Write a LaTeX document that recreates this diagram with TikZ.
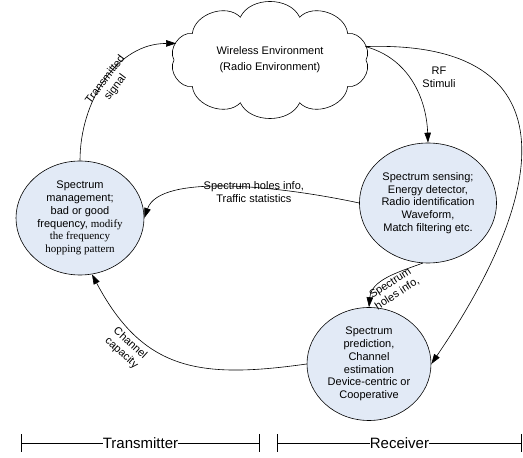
\documentclass[tikz,border=0pt]{standalone}
\usepackage{fontspec}
\setmainfont{Liberation Sans}
\newfontfamily\timesfont{Liberation Serif}
\usetikzlibrary{arrows.meta,shapes.geometric}
\definecolor{stagefill}{RGB}{226,234,246}

\begin{document}
\begin{tikzpicture}[
    x=1pt, y=1pt,
    stage/.style={ellipse, draw, fill=stagefill, inner sep=-10pt, align=center, font=\fontsize{11}{12.7}\selectfont, line width=0.6pt},
    arr/.style={-{Triangle[length=10pt,width=6.5pt]}, line width=0.6pt},
    lbl/.style={font=\fontsize{11}{12.7}\selectfont, align=center, inner sep=1pt},
    span/.style={{Bar[width=18pt]}-{Bar[width=18pt]}, line width=0.6pt}
]
\useasboundingbox (0,0) rectangle (523,458);

% wireless environment: text on an invisible ellipse, puffs drawn round it
\node[ellipse, inner sep=0pt, minimum width=196pt, minimum height=113pt, align=center, font=\fontsize{11}{16}\selectfont] (env) at (270,398) {Wireless Environment\\(Radio Environment)};
\draw[line width=0.6pt] (366,398) \foreach \a in {36,72,...,360} { to[bend right=65] ({270+96*cos(\a)},{398+45*sin(\a)}) } -- cycle;

\node[stage, minimum width=128pt, minimum height=114pt] (mgmt) at (80,240) {Spectrum\\management;\\bad or good\\frequency, {\timesfont modify}\\{\timesfont the frequency}\\{\timesfont hopping pattern}};
\node[stage, minimum width=137pt, minimum height=120pt] (sense) at (428,255) {Spectrum sensing;\\Energy detector,\\Radio identification\\Waveform,\\Match filtering etc.};
\node[stage, minimum width=124pt, minimum height=113pt] (pred) at (369,94) {Spectrum\\prediction,\\Channel\\estimation\\Device-centric or\\Cooperative};

% loop round the stages
\draw[arr] (mgmt.north) to[out=90, in=180] node[lbl, sloped, pos=0.5, yshift=-6pt] {Transmitted\\signal} (env.170);
\draw[arr] (env.8) to[out=-15, in=92] node[lbl, right, pos=0.45, xshift=12pt] {RF\\Stimuli} (sense.north);
\draw[arr] (env.8) .. controls (560,418) and (560,283) .. (pred.east);
\draw[arr] (sense.west) .. controls (280,272) and (160,285) .. node[lbl, pos=0.4, yshift=-4pt] {Spectrum holes info,\\Traffic statistics} (mgmt.east);
\draw[arr] (sense.265) to[out=200, in=85] node[lbl, sloped, midway, below, yshift=0pt] {Spectrum\\holes info,} (pred.north);
\draw[arr] (pred.west) to[out=188, in=-62, looseness=1.2] node[lbl, sloped, pos=0.72, below=4pt] {Channel\\capacity} (mgmt.-78);

% transmitter / receiver spans
\coordinate (txL) at (21,15);
\coordinate (txR) at (260,15);
\coordinate (rxL) at (277,15);
\coordinate (rxR) at (522,15);
\draw[span] (txL) -- node[fill=white, inner sep=0pt, font=\fontsize{15}{18}\selectfont] {Transmitter} (txR);
\draw[span] (rxL) -- node[fill=white, inner sep=0pt, font=\fontsize{15}{18}\selectfont] {Receiver} (rxR);
\end{tikzpicture}
\end{document}
